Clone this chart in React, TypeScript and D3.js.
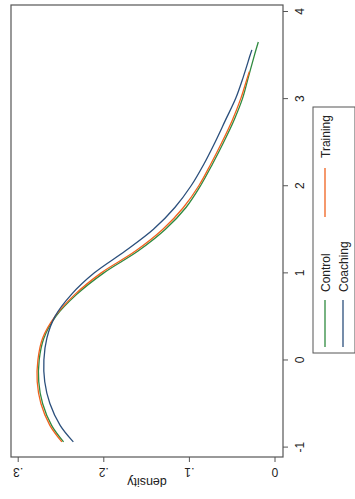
import * as d3 from "d3";
import React from "react";

// density estimates
const gridX = [-0.94, -0.75, -0.5, -0.25, 0, 0.25, 0.5, 0.75, 1, 1.25, 1.5, 1.75, 2, 2.25, 2.5, 2.75, 3, 3.25];
const controlX = [...gridX, 3.5, 3.65];
const trainingX = [...gridX, 3.31];
const coachingX = [...gridX, 3.5, 3.56];

const controlY = [0.247, 0.261, 0.2715, 0.276, 0.2755, 0.27, 0.256, 0.232, 0.2, 0.16, 0.128, 0.104, 0.087, 0.073, 0.06, 0.048, 0.038, 0.031, 0.024, 0.0195];
const trainingY = [0.249, 0.263, 0.2735, 0.2778, 0.277, 0.2715, 0.257, 0.234, 0.203, 0.163, 0.131, 0.107, 0.089, 0.075, 0.062, 0.05, 0.04, 0.032, 0.03];
const coachingY = [0.2356, 0.251, 0.263, 0.269, 0.27, 0.2665, 0.257, 0.238, 0.211, 0.175, 0.142, 0.117, 0.098, 0.083, 0.07, 0.058, 0.046, 0.037, 0.029, 0.027];

const xTicks = [-1, 0, 1, 2, 3, 4];
const yTicks = [0, 0.1, 0.2, 0.3];
const yTickLabels = ["0", ".1", ".2", ".3"];

const green = "#2f8a3f";
const orange = "#f0621e";
const blue = "#2b4f7c";

function App() {
  // the chart is drawn upright and then turned a quarter turn
  const W = 499;
  const left = 42, right = 494, top = 11, bottom = 283;

  const x = d3.scaleLinear().domain([-1, 4]).range([51.9, 487.5]);
  const y = d3.scaleLinear().domain([0, 0.3]).range([275, 18.2]);

  const line = d3.line<[number, number]>()
    .x(d => x(d[0]))
    .y(d => y(d[1]))
    .curve(d3.curveCatmullRom.alpha(0.5));

  const series = [
    { xs: controlX, ys: controlY, color: green },
    { xs: trainingX, ys: trainingY, color: orange },
    { xs: coachingX, ys: coachingY, color: blue },
  ];

  const font = "Liberation Sans, Arial, sans-serif";

  return (
    <svg width={355} height={499} style={{ position: "absolute", left: 0, top: 0, background: "#fff" }}>
      <rect width={355} height={499} fill="#fff" />
      <g transform={`translate(0, ${W}) rotate(-90)`}>
        {series.map((s, i) => (
          <path key={i} d={line(s.xs.map((v, j) => [v, s.ys[j]]) as [number, number][]) || ""}
            fill="none" stroke={s.color} strokeWidth={1.3} />
        ))}
        <rect x={left} y={top} width={right - left} height={bottom - top} fill="none" stroke="#555" strokeWidth={1.2} />

        {/* x axis */}
        {xTicks.map(t => (
          <g key={t} transform={`translate(${x(t)}, ${bottom})`}>
            <line y1={0} y2={5} stroke="#555" />
            <text y={21} textAnchor="middle" fontFamily={font} fontSize={12} fill="#222">{t}</text>
          </g>
        ))}

        {/* y axis */}
        {yTicks.map((t, i) => (
          <g key={t} transform={`translate(${left}, ${y(t)})`}>
            <line x1={0} x2={-5} stroke="#555" />
            <text transform="translate(-11, 0) rotate(-90)" textAnchor="middle" fontFamily={font} fontSize={12} fill="#222">{yTickLabels[i]}</text>
          </g>
        ))}
        <text transform={`translate(21, ${(top + bottom) / 2}) rotate(-90)`} textAnchor="middle" fontFamily={font} fontSize={12.5} fill="#222">density</text>

        {/* legend */}
        <rect x={146} y={313} width={246} height={42} fill="#fff" stroke="#555" strokeWidth={1} />
        <line x1={152} x2={199} y1={325} y2={325} stroke={green} strokeWidth={1.3} />
        <text x={207} y={329.5} fontFamily={font} fontSize={12} fill="#222">Control</text>
        <line x1={282} x2={331} y1={325} y2={325} stroke={orange} strokeWidth={1.3} />
        <text x={341} y={329.5} fontFamily={font} fontSize={12} fill="#222">Training</text>
        <line x1={152} x2={199} y1={343} y2={343} stroke={blue} strokeWidth={1.3} />
        <text x={207} y={347.5} fontFamily={font} fontSize={12} fill="#222">Coaching</text>
      </g>
    </svg>
  );
}

export default App;
